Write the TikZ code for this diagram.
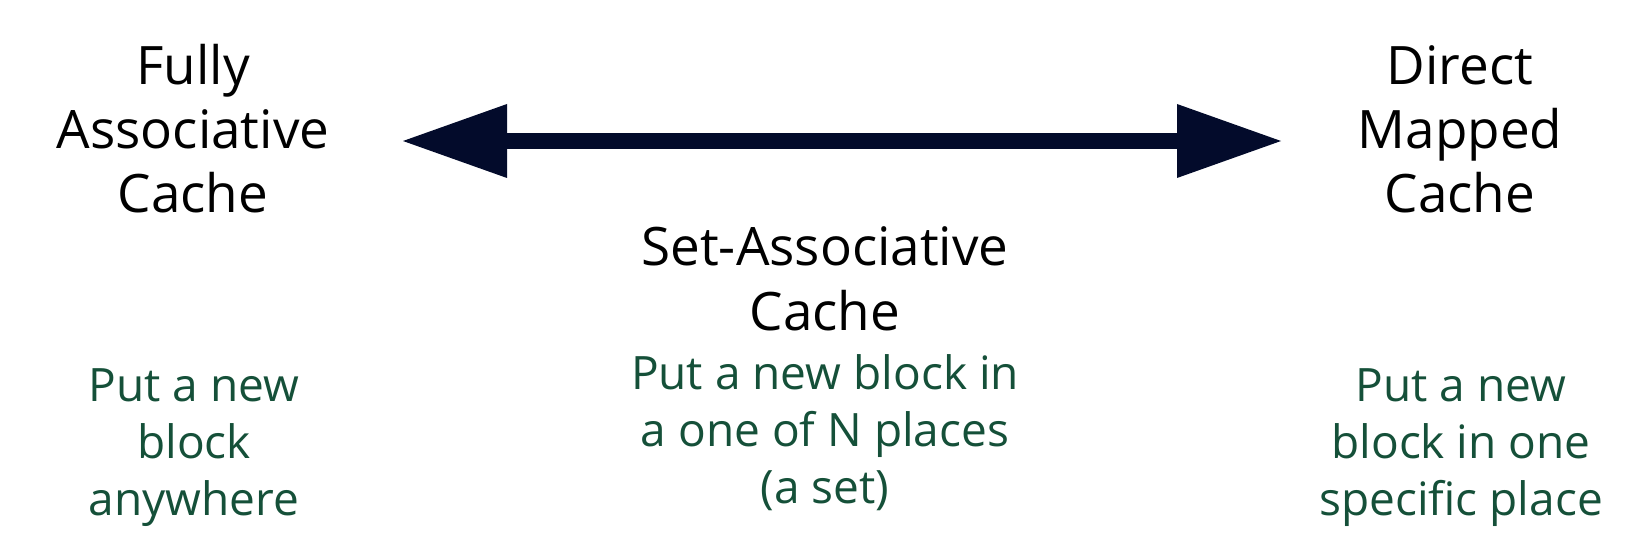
\documentclass[tikz,border=0pt]{standalone}
\usepackage{fontspec}
\setmainfont{Open Sans}
\usetikzlibrary{arrows.meta}
\definecolor{navy}{HTML}{030B2B}
\definecolor{dgreen}{HTML}{155039}
\begin{document}
\begin{tikzpicture}[x=1bp,y=-1bp,
  title/.style={anchor=base,align=center,inner sep=0pt,text=black,
    font=\fontsize{53bp}{64bp}\selectfont},
  desc/.style={anchor=base,align=center,inner sep=0pt,text=dgreen,
    font=\fontsize{46bp}{57bp}\selectfont},
  bigarrow/.style={draw=navy,line width=16bp,
    {Triangle[length=104bp,width=74bp,line width=0pt]}-{Triangle[length=104bp,width=74bp,line width=0pt]}}]
\useasboundingbox (0,0) rectangle (1650,555);
\node[title] (fa) at (193,213) {Fully\\Associative\\Cache};
\node[title] (dm) at (1460,213) {Direct\\Mapped\\Cache};
\node[title] (sa) at (825,330) {Set-Associative\\Cache};
\node[desc] (fad) at (194,515) {Put a new\\block\\anywhere};
\node[desc] (sad) at (825,503) {Put a new block in\\a one of N places\\(a set)};
\node[desc] (dmd) at (1461,515) {Put a new\\block in one\\specific place};
\coordinate (L) at (403,141);
\coordinate (R) at (1281,141);
\draw[bigarrow] (L) -- (R);
\end{tikzpicture}
\end{document}
